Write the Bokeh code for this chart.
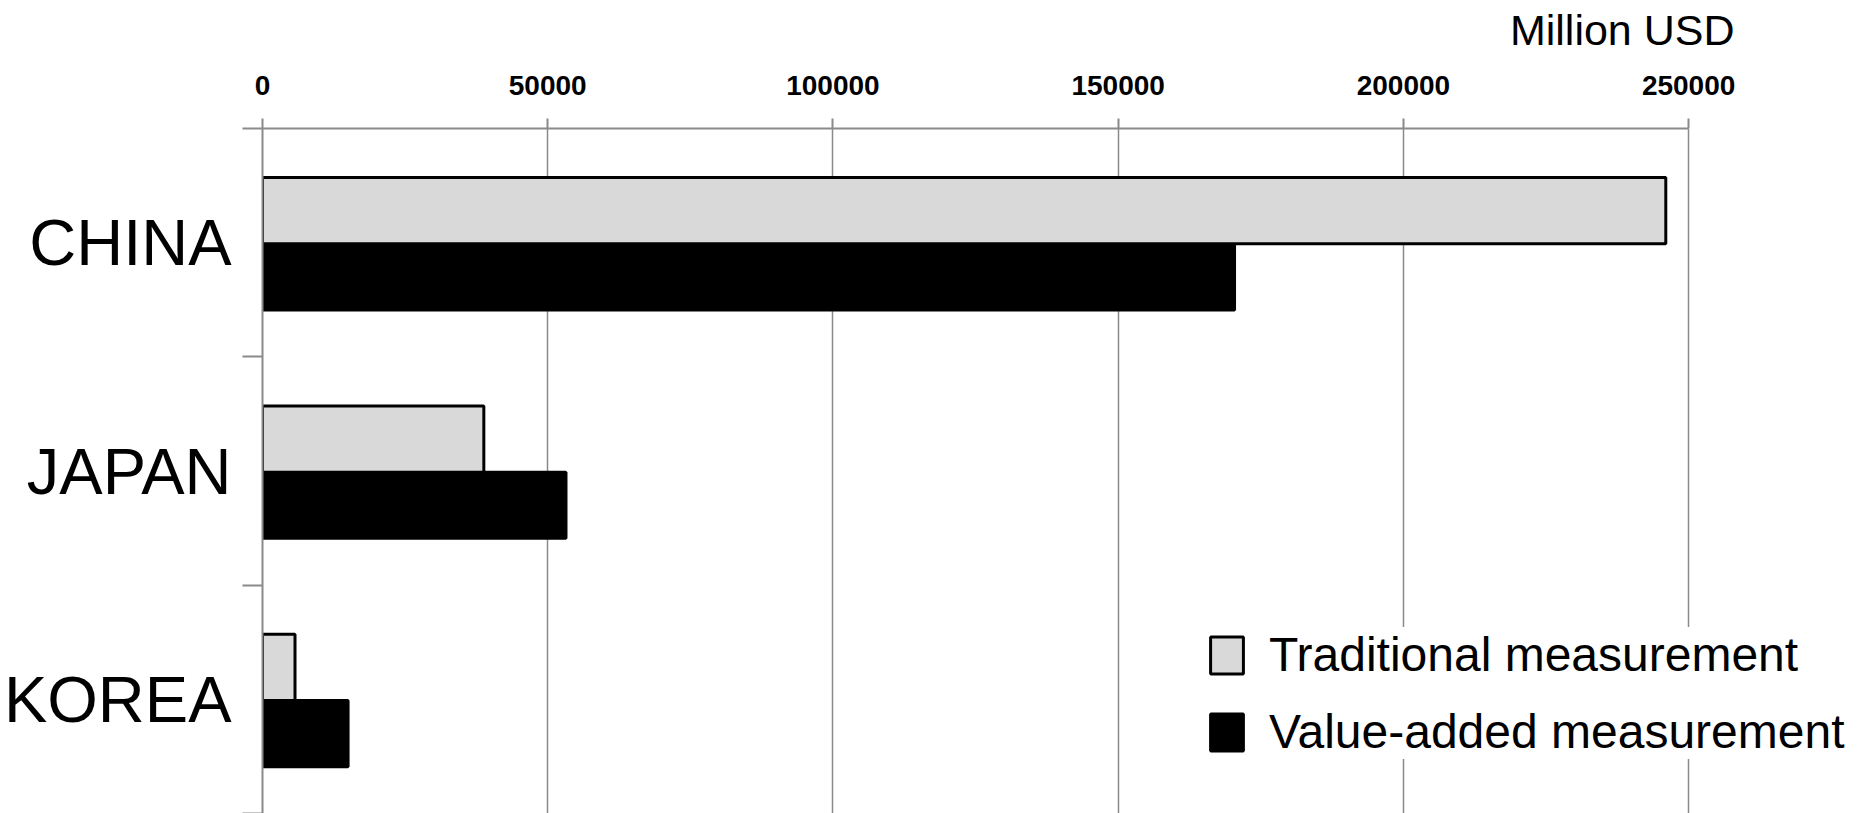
from bokeh.plotting import figure
from bokeh.models import ColumnDataSource, FixedTicker, Legend, LegendItem
from bokeh.transform import dodge
from bokeh.embed import file_html
from bokeh.resources import INLINE

# Bilateral trade balance by partner, in million USD
countries = ["CHINA", "JAPAN", "KOREA"]
traditional = [246000, 38800, 5700]
value_added = [170400, 53200, 15000]
series_names = ["Traditional measurement", "Value-added measurement"]

x_ticks = [0, 50000, 100000, 150000, 200000, 250000]
x_tick_labels = ["0", "50000", "100000", "150000", "200000", "250000"]
unit_label = "Million USD"

GRAY = "#8a8a8a"
FONT = "Liberation Sans"

W, H = 1868, 813
LEFT, AXIS_RIGHT, TOP = 261, 1688, 128

n = len(countries)
ypos = [n - i - 0.5 for i in range(n)]          # band centres, top to bottom
bounds = [float(i) for i in range(n + 1)]       # band edges

# the frame runs to the right edge so the legend can extend past the last tick
x_end = x_ticks[-1] * (W - LEFT) / (AXIS_RIGHT - LEFT)

src = ColumnDataSource(dict(country=countries, y=ypos,
                            trad=traditional, va=value_added))

p = figure(width=W, height=H,
           x_range=(0, x_end), y_range=(0, n),
           x_axis_location="above", title=unit_label,
           output_backend="svg", toolbar_location=None,
           min_border_left=LEFT, min_border_right=0,
           min_border_top=TOP, min_border_bottom=0)
p.background_fill_color = "white"
p.border_fill_color = "white"
p.outline_line_color = None

# unit caption, top right
p.title.align = "right"
p.title.offset = 134
p.title.vertical_align = "top"
p.title.standoff = 0
p.title.text_font = FONT
p.title.text_font_size = "43px"
p.title.text_font_style = "normal"
p.title.text_color = "black"

bar_h = 0.29
r_va = p.hbar(y=dodge("y", -0.15), right="va", left=0, height=bar_h, source=src,
              fill_color="black", line_color="black", line_width=3)
r_tr = p.hbar(y=dodge("y", 0.14), right="trad", left=0, height=bar_h, source=src,
              fill_color="#d9d9d9", line_color="black", line_width=3)

# value axis on top
xa = p.xaxis[0]
xa.ticker = FixedTicker(ticks=x_ticks)
xa.bounds = (x_ticks[0], x_ticks[-1])
xa.major_label_overrides = {t: s for t, s in zip(x_ticks, x_tick_labels)}
xa.major_label_text_font = FONT
xa.major_label_text_font_style = "bold"
xa.major_label_text_font_size = "28px"
xa.major_label_text_color = "black"
xa.major_label_standoff = 24
xa.major_tick_out = 10
xa.major_tick_in = 0
xa.minor_tick_out = 0
xa.minor_tick_in = 0
xa.axis_line_color = GRAY
xa.axis_line_width = 2
xa.major_tick_line_color = GRAY
xa.major_tick_line_width = 2
# blank spacer between the tick labels and the unit caption
xa.axis_label = " "
xa.axis_label_text_font_size = "10px"
xa.axis_label_standoff = 3

# category axis: names at band centres, ticks at band edges
ya = p.yaxis[0]
ya.ticker = FixedTicker(ticks=ypos, minor_ticks=bounds)
ya.major_label_overrides = {y: c for y, c in zip(ypos, countries)}
ya.major_label_text_font = FONT
ya.major_label_text_font_size = "65px"
ya.major_label_text_color = "black"
ya.major_label_standoff = 11
ya.major_tick_out = 0
ya.major_tick_in = 0
ya.minor_tick_out = 20
ya.minor_tick_in = 0
ya.minor_tick_line_color = GRAY
ya.minor_tick_line_width = 2
ya.axis_line_color = GRAY
ya.axis_line_width = 2

p.xgrid.ticker = FixedTicker(ticks=x_ticks)
p.xgrid.grid_line_color = GRAY
p.xgrid.grid_line_width = 1.5
p.ygrid.grid_line_color = None

legend = Legend(items=[LegendItem(label=series_names[0], renderers=[r_tr]),
                       LegendItem(label=series_names[1], renderers=[r_va])],
                location=(944, 54),
                glyph_width=41, glyph_height=46,
                label_text_font=FONT, label_text_font_size="48px",
                label_text_color="black", label_standoff=22,
                spacing=22, padding=20, margin=0,
                background_fill_color="white", background_fill_alpha=1.0,
                border_line_color=None)
p.add_layout(legend)

open("out.html", "w").write(file_html(p, INLINE))
